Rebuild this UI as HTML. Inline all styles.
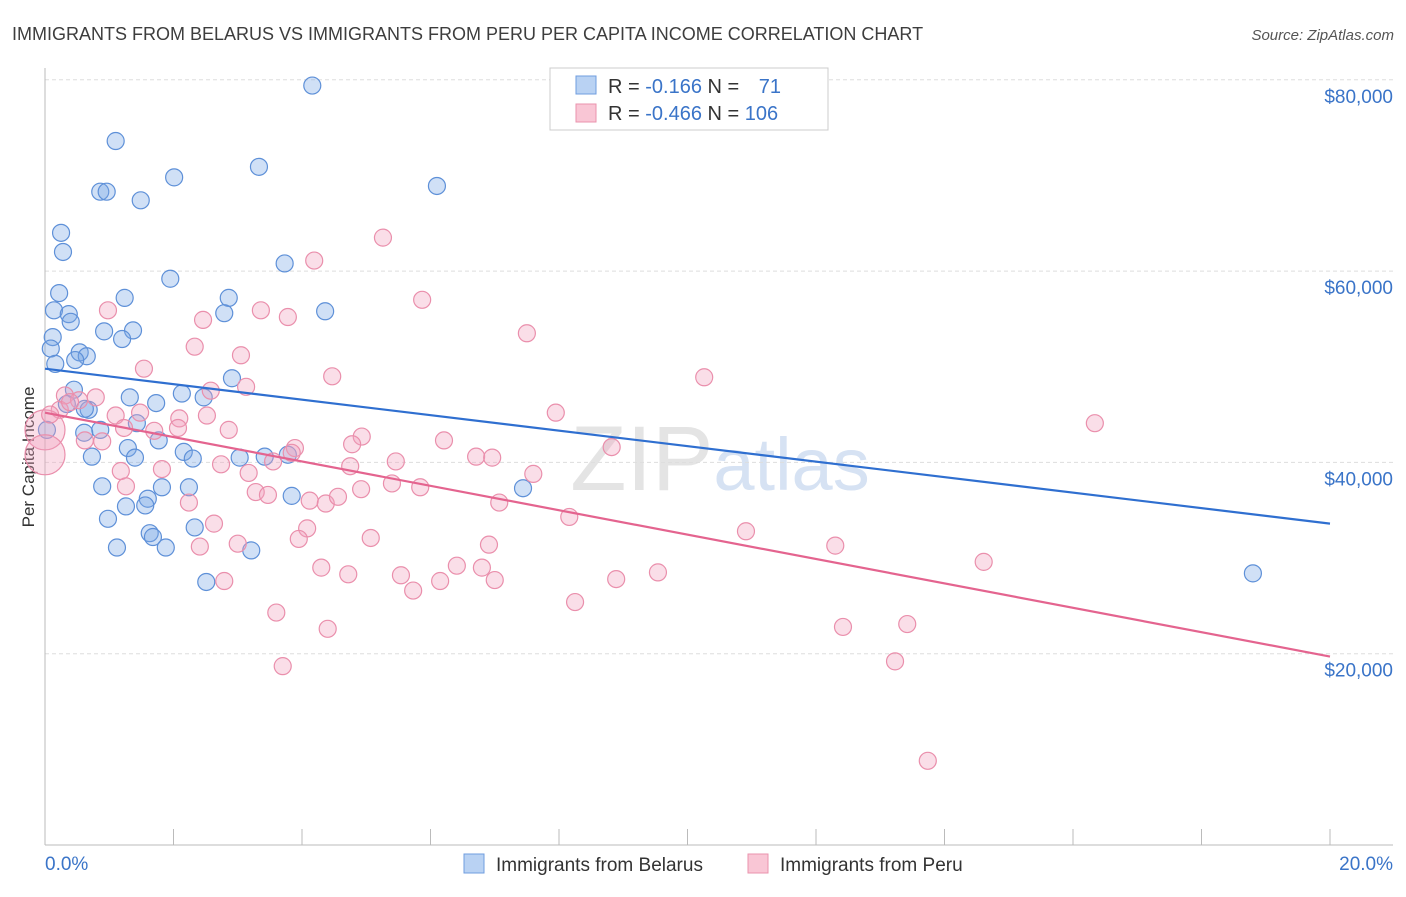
<!DOCTYPE html>
<html><head><meta charset="utf-8"><style>
body{margin:0;background:#fff;font-family:"Liberation Sans",sans-serif;}
svg text{font-family:"Liberation Sans",sans-serif;}
</style></head><body>
<svg id="chart" width="1406" height="892" xmlns="http://www.w3.org/2000/svg">
<text x="12" y="40" font-size="18" fill="#3d3d3d">IMMIGRANTS FROM BELARUS VS IMMIGRANTS FROM PERU PER CAPITA INCOME CORRELATION CHART</text>
<text x="1394" y="40" font-size="15" fill="#555" font-style="italic" text-anchor="end">Source: ZipAtlas.com</text>
<text transform="translate(34,457) rotate(-90)" font-size="17" fill="#333" text-anchor="middle">Per Capita Income</text>
<text x="720" y="490" font-size="92" fill="#e4e4e4" text-anchor="middle" font-family="Liberation Serif">ZIP<tspan fill="#d6e2f3" font-family="Liberation Sans" font-size="74">atlas</tspan></text>
<g id="grid"></g><g id="axes"></g><g id="pts"></g><g id="lines"></g>
<g>
<rect x="550" y="68" width="278" height="62" fill="#fff" stroke="#ccc"/>
<rect x="576" y="76" width="20" height="18" fill="#b9d2f3" stroke="#6f9ddf"/>
<rect x="576" y="104" width="20" height="18" fill="#f9c6d5" stroke="#ea93ad"/>
<text x="608" y="93" font-size="20" fill="#333">R = <tspan fill="#3a74c8">-0.166</tspan>   N =  <tspan fill="#3a74c8" dx="14">71</tspan></text>
<text x="608" y="120" font-size="20" fill="#333">R = <tspan fill="#3a74c8">-0.466</tspan>   N = <tspan fill="#3a74c8">106</tspan></text>
</g>
<g>
<rect x="464" y="854" width="20" height="19" fill="#b9d2f3" stroke="#6f9ddf"/>
<text x="496" y="871" font-size="19" fill="#333">Immigrants from Belarus</text>
<rect x="748" y="854" width="20" height="19" fill="#f9c6d5" stroke="#ea93ad"/>
<text x="780" y="871" font-size="19" fill="#333">Immigrants from Peru</text>
</g>
</svg>
<script>
const yTicks=[20000,40000,60000,80000];
const yTickLabels=["$20,000","$40,000","$60,000","$80,000"];
const xTickLabels=["0.0%","20.0%"];
const belarusX=[4.16,1.10,3.33,2.01,0.86,0.96,1.49,6.10,0.25,0.28,3.73,1.95,0.22,1.24,2.86,0.14,0.37,0.40,4.36,2.79,0.92,1.37,1.20,0.12,0.09,0.54,0.65,0.47,0.16,2.91,1.32,1.73,2.13,2.47,0.45,0.68,0.34,0.86,1.43,1.77,2.16,2.30,0.61,0.73,3.03,3.42,3.78,1.29,1.40,0.89,1.60,2.24,1.82,0.98,1.26,1.56,2.33,3.84,7.44,1.63,1.68,1.12,1.88,3.21,2.51,18.80,0.03,0.62];
const belarusY=[79.4,73.6,70.9,69.8,68.3,68.3,67.4,68.9,64.0,62.0,60.8,59.2,57.7,57.2,57.2,55.9,55.5,54.7,55.8,55.6,53.7,53.8,52.9,53.1,51.9,51.5,51.1,50.7,50.3,48.8,46.8,46.2,47.2,46.8,47.6,45.5,46.1,43.4,44.1,42.3,41.1,40.4,43.1,40.6,40.5,40.6,40.8,41.5,40.5,37.5,36.2,37.4,37.4,34.1,35.4,35.5,33.2,36.5,37.3,32.6,32.2,31.1,31.1,30.8,27.5,28.4,43.4,45.6];
const peruX=[5.26,4.19,5.87,3.36,3.78,2.46,0.98,7.50,2.33,3.05,4.47,1.54,3.13,2.58,10.26,16.34,7.95,0.79,0.31,0.53,0.23,0.39,1.10,1.48,2.09,2.52,2.86,2.07,1.70,0.89,0.62,1.23,4.93,3.89,6.21,3.84,4.78,6.71,6.96,8.82,5.46,7.60,4.75,3.17,2.74,3.55,1.18,1.82,1.26,5.40,5.84,4.92,3.28,3.47,4.12,4.37,4.56,7.07,2.24,8.16,2.63,4.08,3.00,3.95,2.41,5.07,10.91,12.30,6.91,6.41,6.80,14.61,9.54,4.30,4.72,5.54,8.89,6.15,7.00,2.79,5.73,8.25,3.60,12.42,13.42,4.40,3.70,13.23,13.74,0.0,0.0,0.08];
const peruY=[63.5,61.1,57.0,55.9,55.2,54.9,55.9,53.5,52.1,51.2,49.0,49.8,47.9,47.5,48.9,44.1,45.2,46.8,47.0,46.5,45.5,46.3,44.9,45.2,44.6,44.9,43.4,43.6,43.3,42.2,42.3,43.6,42.7,41.5,42.3,41.0,41.9,40.6,40.5,41.6,40.1,38.8,39.6,38.9,39.8,40.1,39.1,39.3,37.5,37.8,37.4,37.2,36.9,36.6,36.0,35.7,36.4,35.8,35.8,34.3,33.6,33.1,31.5,32.0,31.2,32.1,32.8,31.3,31.4,29.2,29.0,29.6,28.5,29.0,28.3,28.2,27.8,27.6,27.7,27.6,26.6,25.4,24.3,22.8,23.1,22.6,18.7,19.2,8.8,43.4,40.8,45.0];
const belarusTrend=[49.8,33.6];
const peruTrend=[45.2,19.7];
const NS="http://www.w3.org/2000/svg";
const X=v=>45+v/20*1285;
const Y=v=>845-v/20000*191.3;
function mk(tag,attrs,parent){const e=document.createElementNS(NS,tag);for(const k in attrs)e.setAttribute(k,attrs[k]);document.getElementById(parent).appendChild(e);return e;}
yTicks.forEach((t,i)=>{
 const g=mk('line',{x1:45,x2:1393,y1:Y(t),y2:Y(t),stroke:'#ddd','stroke-dasharray':'4,3'},'grid');
 
 
 const l=mk('text',{x:1393,y:Y(t)+23,'font-size':19,fill:'#3a74c8','text-anchor':'end'},'axes');
 l.textContent=yTickLabels[i];
 
 
});
const ax=mk('line',{x1:45,x2:1393,y1:845,y2:845,stroke:'#bbb'},'axes');


const ay=mk('line',{x1:45,x2:45,y1:68,y2:845,stroke:'#bbb'},'axes');


for(let i=0;i<=10;i++){const t=mk('line',{x1:X(i*2),x2:X(i*2),y1:829,y2:845,stroke:'#bbb'},'axes');
 
 }
const xl0=mk('text',{x:45,y:870,'font-size':19,fill:'#3a74c8'},'axes');xl0.textContent=xTickLabels[0];


const xl1=mk('text',{x:1393,y:870,'font-size':19,fill:'#3a74c8','text-anchor':'end'},'axes');xl1.textContent=xTickLabels[1];


function pts(xs,ys,fill,stroke,name){xs.forEach((x,i)=>{
 const big=(name==='peru-point'&&i>=xs.length-3&&x<0.05);
 const c=mk('circle',{cx:X(x),cy:Y(ys[i]*1000),r:big?20:8.5,fill:fill,stroke:stroke,'stroke-width':1.2},'pts');
 
 });}
pts(belarusX,belarusY,'rgba(120,165,230,0.35)','#5e90d8','belarus-point');
pts(peruX,peruY,'rgba(242,160,188,0.35)','#ea8fac','peru-point');
const bl=mk('line',{x1:X(0),y1:Y(belarusTrend[0]*1000),x2:X(20),y2:Y(belarusTrend[1]*1000),stroke:'#2f6fd0','stroke-width':2.2},'lines');


const pl=mk('line',{x1:X(0),y1:Y(peruTrend[0]*1000),x2:X(20),y2:Y(peruTrend[1]*1000),stroke:'#e4648f','stroke-width':2.2},'lines');


</script>
</body></html>
